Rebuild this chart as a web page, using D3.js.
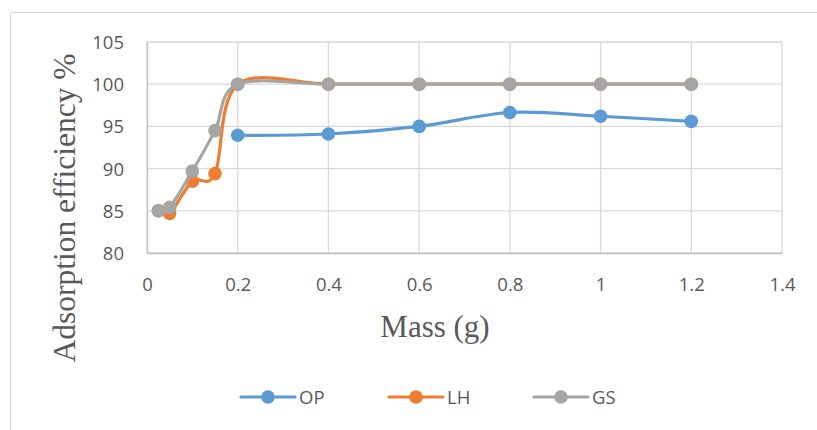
<!DOCTYPE html>
<html>
<head>
<meta charset="utf-8">
<script src="https://cdn.jsdelivr.net/npm/d3@7"></script>
<style>
  body { margin: 0; background: #fff; }
  svg { display: block; }
</style>
</head>
<body>
<script>
// data
var massOP = [0.2, 0.4, 0.6, 0.8, 1.0, 1.2];
var valuesOP = [93.95, 94.1, 95.0, 96.65, 96.2, 95.6];
var massLH = [0.025, 0.05, 0.1, 0.15, 0.2, 0.4, 0.6, 0.8, 1.0, 1.2];
var valuesLH = [85.0, 84.7, 88.5, 89.4, 100, 100, 100, 100, 100, 100];
var massGS = [0.025, 0.05, 0.1, 0.15, 0.2, 0.4, 0.6, 0.8, 1.0, 1.2];
var valuesGS = [85.0, 85.4, 89.7, 94.5, 100, 100, 100, 100, 100, 100];
var seriesNames = ["OP", "LH", "GS"];
var xTicks = [0, 0.2, 0.4, 0.6, 0.8, 1, 1.2, 1.4];
var yTicks = [80, 85, 90, 95, 100, 105];

var w = 817, h = 430;
var colors = {OP: "#5B9BD5", LH: "#ED7D31", GS: "#A5A5A5"};

var svg = d3.select("body").append("svg")
  .attr("width", w)
  .attr("height", h);

// outer chart frame (cropped: only top and left visible)
svg.append("line").attr("x1", 10.5).attr("x2", w).attr("y1", 12.5).attr("y2", 12.5)
  .attr("stroke", "#D9D9D9").attr("stroke-width", 1);
svg.append("line").attr("x1", 10.5).attr("x2", 10.5).attr("y1", 12.5).attr("y2", h)
  .attr("stroke", "#D9D9D9").attr("stroke-width", 1);

var xScale = d3.scaleLinear().domain([0, 1.4]).range([147, 782]);
var yScale = d3.scaleLinear().domain([80, 105]).range([253, 42]);

// gridlines
svg.append("g").selectAll("line")
  .data(yTicks).enter().append("line")
  .attr("x1", xScale(0)).attr("x2", xScale(1.4))
  .attr("y1", function(d) { return yScale(d); })
  .attr("y2", function(d) { return yScale(d); })
  .attr("stroke", "#D9D9D9").attr("stroke-width", 1.3);
svg.append("g").selectAll("line")
  .data(xTicks).enter().append("line")
  .attr("y1", yScale(80)).attr("y2", yScale(105))
  .attr("x1", function(d) { return xScale(d); })
  .attr("x2", function(d) { return xScale(d); })
  .attr("stroke", "#D9D9D9").attr("stroke-width", 1.3);

// axes (labels only, Excel style)
var xAxis = d3.axisBottom(xScale).tickValues(xTicks).tickSize(0).tickPadding(0)
  .tickFormat(function(d) { return String(d); });
var gx = svg.append("g")
  .attr("transform", "translate(0," + yScale(80) + ")")
  .call(xAxis);
gx.select(".domain").attr("stroke", "#BFBFBF").attr("stroke-width", 1.3);
gx.selectAll("text")
  .attr("y", 0).attr("dy", "38px")
  .style("font-family", "'Open Sans', sans-serif")
  .style("font-size", "18.5px")
  .attr("fill", "#595959");

var yAxis = d3.axisLeft(yScale).tickValues(yTicks).tickSize(0).tickPadding(0);
var gy = svg.append("g")
  .attr("transform", "translate(" + xScale(0) + ",0)")
  .call(yAxis);
gy.select(".domain").attr("stroke", "#BFBFBF").attr("stroke-width", 1.3);
gy.selectAll("text")
  .attr("x", -23).attr("dy", "0.35em")
  .style("font-family", "'Open Sans', sans-serif")
  .style("font-size", "18.5px")
  .attr("fill", "#595959");

// axis titles
svg.append("text")
  .attr("x", 435).attr("y", 337)
  .attr("text-anchor", "middle")
  .style("font-family", "'Liberation Serif', 'Times New Roman', serif")
  .style("font-size", "31px")
  .attr("fill", "#595959")
  .text("Mass (g)");

svg.append("text")
  .attr("transform", "translate(75,208) rotate(-90)")
  .attr("text-anchor", "middle")
  .style("font-family", "'Liberation Serif', 'Times New Roman', serif")
  .style("font-size", "31.5px")
  .attr("fill", "#595959")
  .text("Adsorption efficiency %");

// series
var series = [
  {name: "OP", x: massOP, y: valuesOP},
  {name: "LH", x: massLH, y: valuesLH},
  {name: "GS", x: massGS, y: valuesGS}
];

var line = d3.line()
  .x(function(d) { return xScale(d[0]); })
  .y(function(d) { return yScale(d[1]); })
  .curve(d3.curveCardinal.tension(0));

series.forEach(function(s) {
  var pts = s.x.map(function(v, i) { return [v, s.y[i]]; });
  var g = svg.append("g");
  g.append("path")
    .attr("d", line(pts))
    .attr("fill", "none")
    .attr("stroke", colors[s.name])
    .attr("stroke-width", 3.2)
    .attr("stroke-linejoin", "round")
    .attr("stroke-linecap", "round");
  g.selectAll("circle")
    .data(pts).enter().append("circle")
    .attr("cx", function(d) { return xScale(d[0]); })
    .attr("cy", function(d) { return yScale(d[1]); })
    .attr("r", 6.8)
    .attr("fill", colors[s.name]);
});

// legend
var legendX = [241, 389, 534];
var legend = svg.append("g");
seriesNames.forEach(function(name, i) {
  var lx = legendX[i], ly = 397;
  legend.append("line")
    .attr("x1", lx).attr("x2", lx + 54)
    .attr("y1", ly).attr("y2", ly)
    .attr("stroke", colors[name]).attr("stroke-width", 3.2)
    .attr("stroke-linecap", "round");
  legend.append("circle")
    .attr("cx", lx + 27).attr("cy", ly).attr("r", 6.8)
    .attr("fill", colors[name]);
  legend.append("text")
    .attr("x", lx + 58).attr("y", ly).attr("dy", "0.36em")
    .style("font-family", "'Open Sans', sans-serif")
    .style("font-size", "18.5px")
    .attr("fill", "#595959")
    .text(name);
});
</script>
</body>
</html>
